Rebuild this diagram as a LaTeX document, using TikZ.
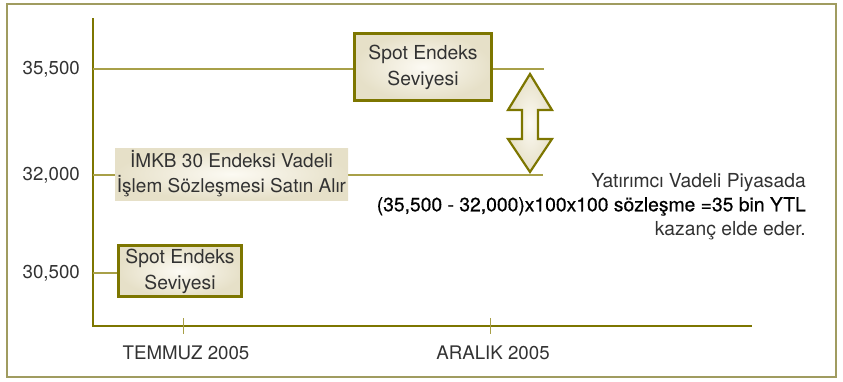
\documentclass[tikz,border=0pt]{standalone}
\usepackage{fontspec}
\setmainfont{TeX Gyre Heros}
\newfontfamily\medfont[FakeBold=0.5]{TeX Gyre Heros}
\usepackage{tikz}
\usetikzlibrary{positioning}
\usepackage{xcolor}
\definecolor{axisolive}{RGB}{125, 118, 0}
\definecolor{lineolive}{RGB}{168, 160, 72}
\definecolor{frameolive}{RGB}{160, 156, 96}
\definecolor{boxedge}{RGB}{230, 224, 200}
\definecolor{boxmid}{RGB}{252, 250, 243}
\definecolor{txtgray}{RGB}{50, 50, 50}

\begin{document}
\begin{tikzpicture}[
  x=1pt, y=-1pt,
  lbl/.style={font=\fontsize{18.7}{22}\selectfont, text=txtgray, inner sep=0pt},
  levelbox/.style={draw=axisolive, line width=3.5pt, inner color=boxmid,
                   outer color=boxedge, align=center, inner sep=0pt,
                   font=\fontsize{19.3}{26}\selectfont, text=txtgray},
  plainbox/.style={inner color=boxmid, outer color=boxedge, align=center,
                   inner sep=0pt, font=\fontsize{19}{25}\selectfont, text=txtgray},
  level/.style={draw=lineolive, line width=1.3pt},
  axis/.style={draw=axisolive, line width=2.6pt, line join=miter}
]
  \useasboundingbox (0,0) rectangle (843,381);
  \draw[frameolive, line width=1.5pt] (7,4) rectangle (836,377);

  % axes
  \coordinate (top) at (93,18);
  \coordinate (origin) at (93,326);
  \coordinate (xend) at (752,326);
  \draw[axis] (top) -- (origin) -- (xend);

  % price levels
  \coordinate (y355) at (93,69);
  \coordinate (y320) at (93,175);
  \coordinate (y305) at (93,273);
  \coordinate (r355) at (544,69);
  \coordinate (r320) at (543,175);
  \draw[level] (y355) -- (r355);
  \draw[level] (y320) -- (r320);

  \node[lbl, left=13pt of y355] (v355) {35,500};
  \node[lbl, left=13pt of y320] (v320) {32,000};
  \node[lbl, left=13pt of y305] (v305) {30,500};

  % time ticks
  \coordinate (tjula) at (183,318);
  \coordinate (tjulb) at (183,334);
  \coordinate (tdeca) at (490,318);
  \coordinate (tdecb) at (490,334);
  \draw[level, line width=1pt] (tjula) -- (tjulb);
  \draw[level, line width=1pt] (tdeca) -- (tdecb);
  \node[lbl, below=12pt of tjulb, xshift=3pt] (temmuz) {TEMMUZ 2005};
  \node[lbl, below=12pt of tdecb, xshift=3pt] (aralik) {ARALIK 2005};

  % boxes
  \node[levelbox, minimum width=137pt, minimum height=67pt] (spotdec) at (423,67)
    {Spot Endeks\\Seviyesi};
  \node[plainbox, minimum width=233pt, minimum height=52pt] (futures) at (231.5,174)
    {İMKB 30 Endeksi Vadeli\\İşlem Sözleşmesi Satın Alır};
  \node[levelbox, line width=3pt, minimum width=123pt, minimum height=51pt] (spotjul) at (180,271)
    {Spot Endeks\\Seviyesi};
  \draw[level] (y305) -- (y305 -| spotjul.west);

  % difference arrow
  \draw[axisolive, line width=2.2pt, line join=miter, inner color=boxmid, outer color=boxedge]
    (530,74) -- (552,110) -- (538,110) -- (538,139) -- (552,139) -- (530,172)
    -- (508,139) -- (522,139) -- (522,110) -- (508,110) -- cycle;

  \node[lbl, anchor=north east, align=right, font=\fontsize{19.3}{24}\selectfont] (gain) at (806,173)
    {Yatırımcı Vadeli Piyasada\\
     {\medfont\color{black}(35,500 - 32,000)x100x100 sözleşme =35 bin YTL}\\
     kazanç elde eder.};
\end{tikzpicture}
\end{document}
